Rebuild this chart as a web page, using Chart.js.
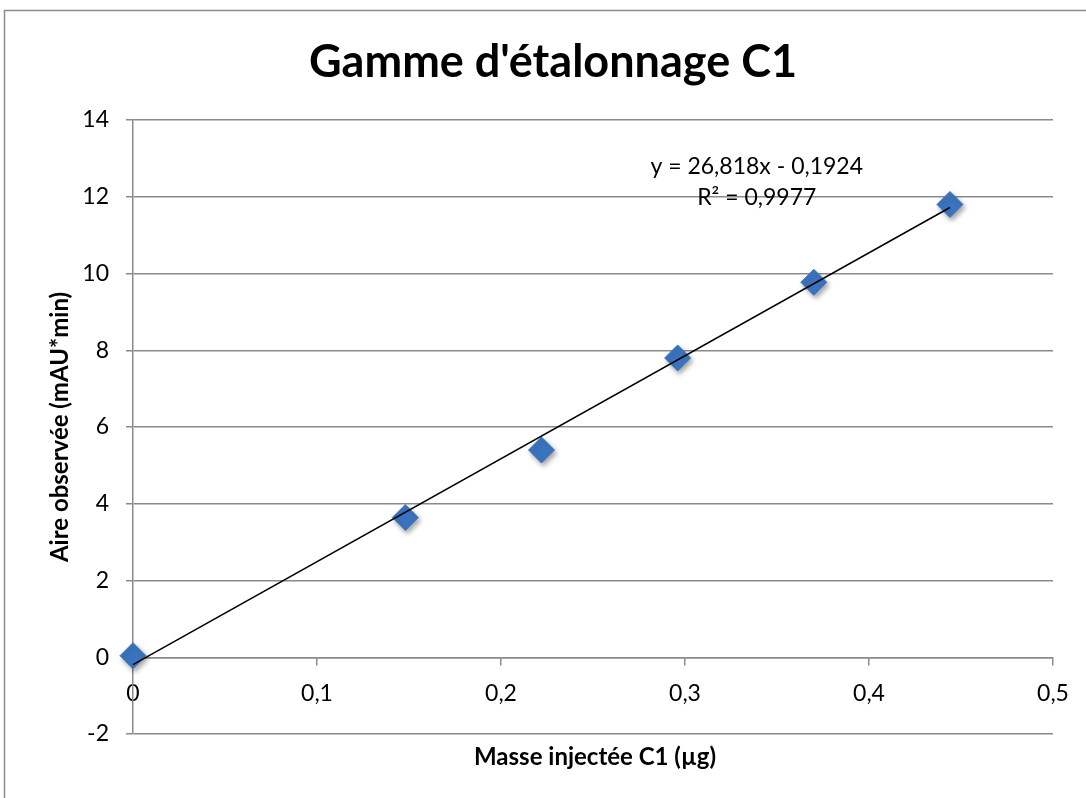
<!DOCTYPE html>
<html>
<head>
<meta charset="utf-8">
<script src="https://cdn.jsdelivr.net/npm/chart.js@4/dist/chart.umd.min.js"></script>
<style>
  html, body { margin: 0; padding: 0; background: #fff; overflow: hidden; }
  canvas { display: block; }
</style>
</head>
<body>
<canvas id="chart" width="1086" height="798"></canvas>
<script>
// values
const masse = [0, 0.148, 0.222, 0.296, 0.37, 0.444];
const aire = [0.04, 3.64, 5.4, 7.8, 9.77, 11.8];
// trendline end points (Excel linear fit)
const trendX = [0, 0.444];
const trendY = [-0.19, 11.72];
const xTicks = [0, 0.1, 0.2, 0.3, 0.4, 0.5];
const yTicks = [-2, 0, 2, 4, 6, 8, 10, 12, 14];

const titleText = "Gamme d'étalonnage C1";
const xTitle = "Masse injectée C1 (µg)";
const yTitle = "Aire observée (mAU*min)";
const equation = ["y = 26,818x - 0,1924", "R² = 0,9977"];

const FONT = "Lato, 'Noto Sans', sans-serif";
const GRID = '#8a8a8a';

function fr(v) {
    return String(Number(v.toFixed(2))).replace('.', ',');
}

// draws frame, title, x title and the trendline label
const extras = {
    id: 'extras',
    beforeDraw(chart) {
        const ctx = chart.ctx;
        ctx.save();
        ctx.fillStyle = '#fff';
        ctx.fillRect(0, 0, chart.width, chart.height);
        ctx.strokeStyle = '#8c8c8c';
        ctx.lineWidth = 1.5;
        ctx.strokeRect(4.5, 10.5, chart.width + 20, chart.height + 20);
        ctx.restore();
    },
    afterDraw(chart) {
        const ctx = chart.ctx;
        const xs = chart.scales.x, ys = chart.scales.y;
        ctx.save();
        ctx.fillStyle = '#000';
        ctx.textAlign = 'center';
        ctx.textBaseline = 'middle';
        ctx.font = "bold 45px " + FONT;
        ctx.fillText(titleText, 553, 62);
        ctx.font = "bold 24px " + FONT;
        ctx.fillText(xTitle, (xs.left + xs.right) / 2 + 2, 757);
        ctx.font = "23px " + FONT;
        ctx.fillText(equation[0], xs.getPixelForValue(0.339), ys.getPixelForValue(12.78));
        ctx.fillText(equation[1], xs.getPixelForValue(0.339), ys.getPixelForValue(11.97));
        ctx.restore();
    },
    beforeDatasetDraw(chart, args) {
        if (args.index === 1) {
            const ctx = chart.ctx;
            ctx.save();
            ctx.shadowColor = 'rgba(0,0,0,0.35)';
            ctx.shadowBlur = 5;
            ctx.shadowOffsetX = 2;
            ctx.shadowOffsetY = 3;
        }
    },
    afterDatasetDraw(chart, args) {
        if (args.index === 1) chart.ctx.restore();
    }
};

const ctx = document.getElementById('chart').getContext('2d');
const myChart = new Chart(ctx, {
    type: 'scatter',
    data: {
        datasets: [{
            type: 'line',
            label: 'Linéaire',
            data: trendX.map((x, i) => ({ x, y: trendY[i] })),
            borderColor: '#000',
            borderWidth: 1.5,
            pointRadius: 0,
            fill: false,
            clip: false
        }, {
            label: 'C1',
            data: masse.map((x, i) => ({ x, y: aire[i] })),
            pointStyle: 'rectRot',
            pointRadius: 13,
            pointHoverRadius: 13,
            backgroundColor: '#3b74be',
            borderColor: '#3f78c2',
            borderWidth: 1,
            clip: false
        }]
    },
    options: {
        responsive: false,
        animation: false,
        devicePixelRatio: 1,
        layout: { padding: { top: 120, right: 33, bottom: 64, left: 0 } },
        plugins: {
            legend: { display: false },
            title: { display: false },
            tooltip: { enabled: false }
        },
        scales: {
            x: {
                type: 'linear',
                position: { y: 0 },
                min: 0,
                max: 0.5,
                afterFit: (s) => { s.height = 0; },
                afterBuildTicks: (s) => { s.ticks = xTicks.map(v => ({ value: v })); },
                border: { display: true, color: GRID, width: 1.5 },
                grid: { drawOnChartArea: false, drawTicks: true, tickLength: 7, color: GRID, lineWidth: 1.5 },
                ticks: {
                    padding: 16,
                    color: '#000',
                    font: { family: FONT, size: 23 },
                    callback: (v) => fr(v)
                }
            },
            y: {
                type: 'linear',
                min: -2,
                max: 14,
                afterFit: (s) => { s.width = 133; },
                afterBuildTicks: (s) => { s.ticks = yTicks.map(v => ({ value: v })); },
                border: { display: true, color: GRID, width: 1.5 },
                grid: { color: GRID, lineWidth: 1.5, tickLength: 7 },
                title: {
                    display: true,
                    text: yTitle,
                    color: '#000',
                    font: { family: FONT, size: 24, weight: 'bold' },
                    padding: { top: 46, bottom: 0 }
                },
                ticks: {
                    padding: 17,
                    color: '#000',
                    font: { family: FONT, size: 23 },
                    callback: (v) => fr(v)
                }
            }
        }
    },
    plugins: [extras]
});
</script>
</body>
</html>
